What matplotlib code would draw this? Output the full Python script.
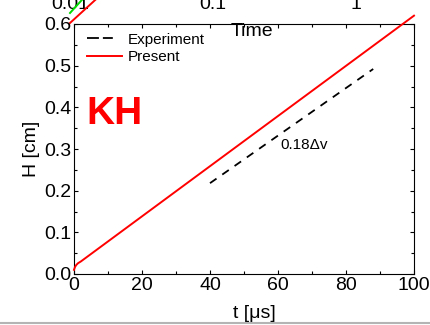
import matplotlib
matplotlib.use("Agg")
import matplotlib.pyplot as plt
from matplotlib.lines import Line2D
from matplotlib.ticker import MultipleLocator, FixedLocator, NullLocator

plt.rcParams['font.family'] = ['Liberation Sans', 'DejaVu Sans']

# ---- data (main panel) ----
t_present = [0, 0.3, 0.7, 1.2, 2.0, 100]
H_present = [0.010, 0.017, 0.022, 0.026, 0.030, 0.620]
t_exp = [40, 88]
H_exp = [0.218, 0.492]

x_ticks = [0, 20, 40, 60, 80, 100]
y_ticks = [0.0, 0.1, 0.2, 0.3, 0.4, 0.5, 0.6]

# ---- data (partially visible upper panel) ----
top_ticks = [0.01, 0.1, 1]
top_labels = ['0.01', '0.1', '1']
top_red_x = [0.01, 0.0150]
top_red_y = [-0.33, -0.10]
top_green_x = [0.01, 0.0121]
top_green_y = [-0.23, -0.10]

W, H = 430, 325
fig = plt.figure(figsize=(W / 100, H / 100), dpi=100)

def ax_rect(l, r, t, b):
    return [l / W, 1 - b / H, (r - l) / W, (b - t) / H]

# upper panel (cropped off at the top)
axt = fig.add_axes(ax_rect(70, 414, -110, -10))
axt.set_xscale('log')
axt.set_xlim(0.01, 10 ** ((414 - 356) / 143))
axt.set_ylim(0, 1)
axt.set_frame_on(False)
axt.xaxis.set_major_locator(FixedLocator(top_ticks))
axt.xaxis.set_minor_locator(NullLocator())
axt.set_xticklabels(top_labels)
axt.tick_params(axis='x', length=0, labelsize=14, pad=4)
axt.set_yticks([])
axt.plot(top_red_x, top_red_y, color='red', lw=1.4, clip_on=False)
axt.plot(top_green_x, top_green_y, color='#00dd00', lw=1.4, clip_on=False)

# main panel
ax = fig.add_axes(ax_rect(74, 414, 24, 274))
ax.plot(t_present, H_present, color='red', lw=1.4, clip_on=False, zorder=3)
ax.plot(t_exp, H_exp, color='black', lw=1.3, linestyle=(0, (4.4, 3.9)))

ax.set_xlim(0, 100)
ax.set_ylim(0, 0.6)
ax.set_xticks(x_ticks)
ax.set_xticklabels([str(v) for v in x_ticks])
ax.set_yticks(y_ticks)
ax.set_yticklabels(['%.1f' % v for v in y_ticks])
ax.xaxis.set_minor_locator(MultipleLocator(10))
ax.yaxis.set_minor_locator(MultipleLocator(0.05))
ax.tick_params(which='both', direction='in', top=True, right=True, width=0.8)
ax.tick_params(which='major', length=3, labelsize=14, pad=2)
ax.tick_params(which='minor', length=2.5)
for s in ax.spines.values():
    s.set_linewidth(0.8)

ax.set_xlabel('t [\u03bcs]', fontsize=14, labelpad=9)
ax.xaxis.set_label_coords(0.53, -0.125)
ax.set_ylabel('H [cm]', fontsize=14, labelpad=3)

ax.text(3.6, 0.385, 'KH', color='red', fontsize=28, fontweight='bold',
        ha='left', va='center')
ax.text(60.6, 0.31, '0.18\u0394v', fontsize=11, ha='left', va='center')

h_exp = Line2D([], [], color='black', lw=1.3, linestyle=(0, (6.6, 2.2, 5.5, 11.0)))
h_pre = Line2D([], [], color='red', lw=1.4)
ax.legend([h_exp, h_pre], ['Experiment', 'Present'], loc='upper left',
          bbox_to_anchor=(0.038, 0.965), frameon=False, fontsize=11,
          borderpad=0, borderaxespad=0, handlelength=2.3, handletextpad=0.35,
          labelspacing=0.22)

# "Time" label of upper panel, overlapping main frame
fig.text(252 / W, 1 - 31 / H, 'Time', fontsize=14, ha='center', va='center')

# page border at bottom
fig.add_artist(Line2D([0, 1], [1 - 323 / H, 1 - 323 / H], color='#b4b4b4', lw=1.5,
                      transform=fig.transFigure))

fig.savefig('out.png', dpi=100)
